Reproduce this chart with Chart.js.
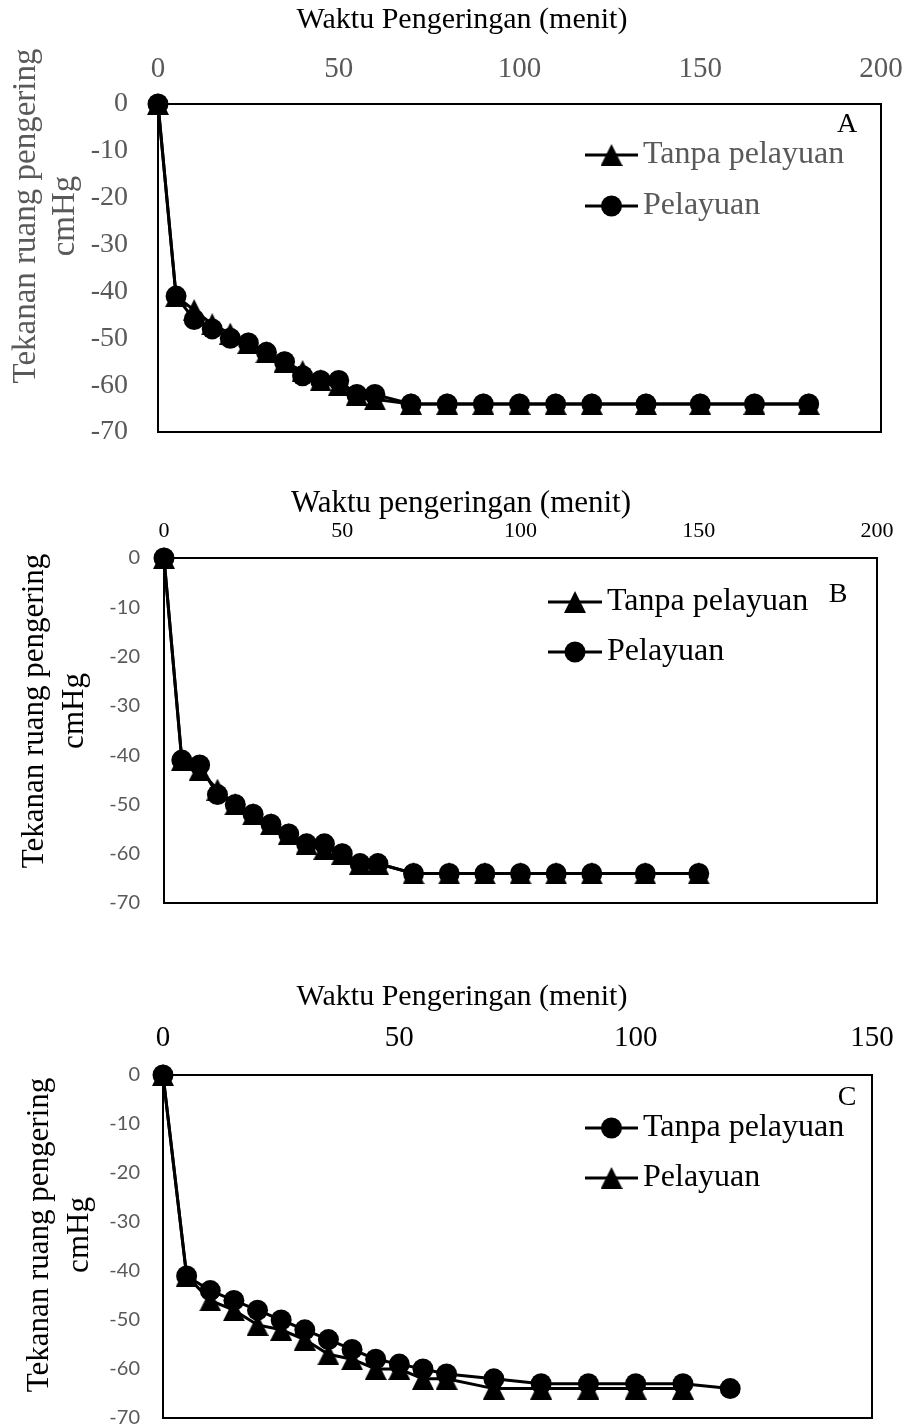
<!DOCTYPE html>
<html>
<head>
<meta charset="utf-8">
<script src="https://cdn.jsdelivr.net/npm/chart.js@4.4.1/dist/chart.umd.min.js"></script>
<style>
  html, body { margin: 0; padding: 0; background: #fff; overflow: hidden; width: 907px; height: 1427px; }
  .panel { position: absolute; left: 0; }
</style>
</head>
<body>
<canvas id="chartA" class="panel" style="top:0px" width="960" height="500"></canvas>
<canvas id="chartB" class="panel" style="top:470px" width="960" height="500"></canvas>
<canvas id="chartC" class="panel" style="top:930px" width="960" height="560"></canvas>
<script>
// Waktu pengeringan (menit)
const minutesA = [0, 5, 10, 15, 20, 25, 30, 35, 40, 45, 50, 55, 60, 70, 80, 90, 100, 110, 120, 135, 150, 165, 180];
const minutesB = [0, 5, 10, 15, 20, 25, 30, 35, 40, 45, 50, 55, 60, 70, 80, 90, 100, 110, 120, 135, 150];
const minutesC = [0, 5, 10, 15, 20, 25, 30, 35, 40, 45, 50, 55, 60, 70, 80, 90, 100, 110, 120];

// Tekanan ruang pengering (cmHg)
const tanpaA    = [0, -41, -44, -47, -49, -51, -53, -55, -57, -59, -60, -62, -63, -64, -64, -64, -64, -64, -64, -64, -64, -64, -64];
const pelayuanA = [0, -41, -46, -48, -50, -51, -53, -55, -58, -59, -59, -62, -62, -64, -64, -64, -64, -64, -64, -64, -64, -64, -64];
const tanpaB    = [0, -41, -43, -47, -50, -52, -54, -56, -58, -59, -60, -62, -62, -64, -64, -64, -64, -64, -64, -64, -64];
const pelayuanB = [0, -41, -42, -48, -50, -52, -54, -56, -58, -58, -60, -62, -62, -64, -64, -64, -64, -64, -64, -64, -64];
const tanpaC    = [0, -41, -44, -46, -48, -50, -52, -54, -56, -58, -59, -60, -61, -62, -63, -63, -63, -63, -64];
const pelayuanC = [0, -41, -46, -48, -51, -52, -54, -57, -58, -60, -60, -62, -62, -64, -64, -64, -64, -64];

const SERIF = '"Liberation Serif", "Times New Roman", serif';
const SANS = 'Lato, "Open Sans", sans-serif';
const GREY = '#595959';

// segitiga ala Excel (puncak di atas, alas di bawah)
function triangleMarker(w, h) {
  const c = document.createElement('canvas');
  c.width = w; c.height = h;
  const g = c.getContext('2d');
  g.fillStyle = '#000';
  g.beginPath();
  g.moveTo(w / 2, 0);
  g.lineTo(w, h);
  g.lineTo(0, h);
  g.closePath();
  g.fill();
  return c;
}
const TRI = triangleMarker(22, 22);

function series(label, xs, ys, style) {
  return {
    label: label,
    data: ys.map((y, i) => ({ x: xs[i], y: y })),
    borderColor: '#000',
    backgroundColor: '#000',
    borderWidth: 3,
    pointStyle: style,
    pointRadius: 10.5,
    pointBorderWidth: 0,
    tension: 0,
    clip: false
  };
}

// bingkai, judul sumbu, legenda dan huruf panel
const panelDecor = {
  id: 'panelDecor',
  beforeDatasetsDraw(chart) {
    const { ctx, chartArea: a } = chart;
    ctx.save();
    ctx.strokeStyle = '#000';
    ctx.lineWidth = 2;
    ctx.strokeRect(a.left, a.top, a.right - a.left, a.bottom - a.top);
    ctx.restore();
  },
  afterDraw(chart, args, o) {
    const ctx = chart.ctx;
    ctx.save();
    // judul sumbu x
    ctx.fillStyle = o.xTitle.color;
    ctx.font = o.xTitle.font;
    ctx.textAlign = 'center';
    ctx.textBaseline = 'alphabetic';
    ctx.fillText(o.xTitle.text, o.xTitle.x, o.xTitle.y);
    // judul sumbu y (diputar)
    ctx.fillStyle = o.yTitle.color;
    ctx.font = o.yTitle.font;
    o.yTitle.lines.forEach((t, k) => {
      ctx.save();
      ctx.translate(o.yTitle.x[k], o.yTitle.y);
      ctx.rotate(-Math.PI / 2);
      ctx.textAlign = 'center';
      ctx.textBaseline = 'middle';
      ctx.fillText(t, 0, 0);
      ctx.restore();
    });
    // legenda
    const lg = o.legend;
    ctx.font = lg.font;
    ctx.textAlign = 'left';
    ctx.textBaseline = 'middle';
    lg.order.forEach((di, k) => {
      const ds = chart.data.datasets[di];
      const y = lg.y[k];
      ctx.strokeStyle = '#000';
      ctx.lineWidth = 3;
      ctx.beginPath();
      ctx.moveTo(lg.x1, y);
      ctx.lineTo(lg.x2, y);
      ctx.stroke();
      ctx.fillStyle = '#000';
      Chart.helpers.drawPoint(ctx, { pointStyle: ds.pointStyle, radius: 10.5, borderWidth: 0, rotation: 0 }, (lg.x1 + lg.x2) / 2, y);
      ctx.fillStyle = lg.color;
      ctx.fillText(ds.label, lg.textX, y);
    });
    // huruf panel
    ctx.fillStyle = '#000';
    ctx.font = o.tag.font;
    ctx.textAlign = 'center';
    ctx.fillText(o.tag.text, o.tag.x, o.tag.y);
    ctx.restore();
  }
};

function makePanel(id, cfg) {
  return new Chart(document.getElementById(id), {
    type: 'line',
    data: { datasets: cfg.datasets },
    options: {
      responsive: false,
      animation: false,
      layout: { padding: cfg.padding },
      plugins: {
        legend: { display: false },
        tooltip: { enabled: false },
        panelDecor: cfg.decor
      },
      scales: {
        x: {
          type: 'linear',
          position: 'top',
          min: 0,
          max: cfg.xMax,
          grid: { display: false, drawTicks: false },
          border: { display: false },
          ticks: { stepSize: 50, autoSkip: false, maxRotation: 0, padding: cfg.xTickPad, color: cfg.xTickColor, font: cfg.xTickFont },
          afterFit: (s) => { s.height = cfg.xHeight; }
        },
        y: {
          min: -70,
          max: 0,
          grid: { display: false, drawTicks: false },
          border: { display: false },
          ticks: { stepSize: 10, autoSkip: false, padding: cfg.yTickPad, color: cfg.yTickColor, font: cfg.yTickFont },
          afterFit: (s) => { s.width = cfg.yWidth; }
        }
      }
    },
    plugins: [panelDecor]
  });
}

// Panel A  (area plot: 158..881 x 104..432)
makePanel('chartA', {
  datasets: [
    series('Pelayuan', minutesA, pelayuanA, 'circle'),
    series('Tanpa pelayuan', minutesA, tanpaA, TRI)
  ],
  xMax: 200,
  padding: { left: 0, top: 0, right: 79, bottom: 68 },
  xHeight: 104, yWidth: 158,
  xTickPad: 17, xTickColor: GREY, xTickFont: { family: SERIF, size: 29 },
  yTickPad: 30, yTickColor: GREY, yTickFont: { family: SERIF, size: 28 },
  decor: {
    xTitle: { text: 'Waktu Pengeringan (menit)', x: 462, y: 28, color: '#000', font: '30px ' + SERIF },
    yTitle: { lines: ['Tekanan ruang pengering', 'cmHg'], x: [26, 65], y: 216, color: GREY, font: '33px ' + SERIF },
    legend: { order: [1, 0], x1: 585, x2: 638, y: [155, 206], textX: 643, color: GREY, font: '32px ' + SERIF },
    tag: { text: 'A', x: 847, y: 125, font: '28px ' + SERIF }
  }
});

// Panel B  (area plot: 164..877 x 558..903)
makePanel('chartB', {
  datasets: [
    series('Pelayuan', minutesB, pelayuanB, 'circle'),
    series('Tanpa pelayuan', minutesB, tanpaB, TRI)
  ],
  xMax: 200,
  padding: { left: 0, top: 0, right: 83, bottom: 67 },
  xHeight: 88, yWidth: 164,
  xTickPad: 14, xTickColor: '#000', xTickFont: { family: SERIF, size: 22 },
  yTickPad: 24, yTickColor: GREY, yTickFont: { family: SANS, size: 20 },
  decor: {
    xTitle: { text: 'Waktu pengeringan (menit)', x: 461, y: 42, color: '#000', font: '31px ' + SERIF },
    yTitle: { lines: ['Tekanan ruang pengering', 'cmHg'], x: [35, 75], y: 241, color: '#000', font: '31px ' + SERIF },
    legend: { order: [1, 0], x1: 548, x2: 602, y: [132, 182], textX: 607, color: '#000', font: '32px ' + SERIF },
    tag: { text: 'B', x: 838, y: 125, font: '28px ' + SERIF }
  }
});

// Panel C  (area plot: 163..872 x 1075..1418)
makePanel('chartC', {
  datasets: [
    series('Tanpa pelayuan', minutesC, tanpaC, 'circle'),
    series('Pelayuan', minutesC, pelayuanC, TRI)
  ],
  xMax: 150,
  padding: { left: 0, top: 0, right: 88, bottom: 72 },
  xHeight: 145, yWidth: 163,
  xTickPad: 19, xTickColor: '#000', xTickFont: { family: SERIF, size: 29 },
  yTickPad: 23, yTickColor: GREY, yTickFont: { family: SANS, size: 20 },
  decor: {
    xTitle: { text: 'Waktu Pengeringan (menit)', x: 462, y: 75, color: '#000', font: '30px ' + SERIF },
    yTitle: { lines: ['Tekanan ruang pengering', 'cmHg'], x: [40, 80], y: 305, color: '#000', font: '31px ' + SERIF },
    legend: { order: [0, 1], x1: 585, x2: 638, y: [198, 248], textX: 643, color: '#000', font: '32px ' + SERIF },
    tag: { text: 'C', x: 847, y: 168, font: '28px ' + SERIF }
  }
});
</script>
</body>
</html>
